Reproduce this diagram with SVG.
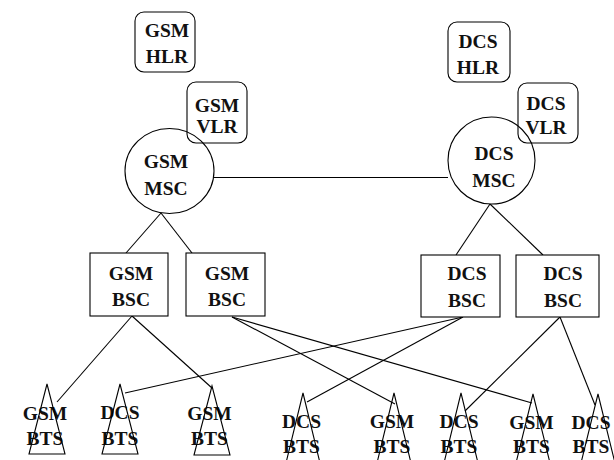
<svg xmlns="http://www.w3.org/2000/svg" width="614" height="460" viewBox="0 0 614 460">
<style>
.s{fill:none;stroke:#000;stroke-width:1.1}
.n{fill:#fff;stroke:#000;stroke-width:1.1}
.t{font-family:"Liberation Serif","Times New Roman",serif;font-weight:bold;font-size:19.5px;fill:#111;text-anchor:middle}
</style>
<rect width="614" height="460" fill="#fff"/>
<g id="connectors" class="s">
<line x1="214" y1="177.5" x2="448" y2="177.5"/>
<line x1="161" y1="213" x2="126" y2="253"/>
<line x1="161" y1="213" x2="192" y2="253"/>
<line x1="490" y1="204" x2="456" y2="255"/>
<line x1="490" y1="204" x2="543" y2="255"/>
<line x1="132" y1="316" x2="57" y2="402"/>
<line x1="132" y1="316" x2="212" y2="388"/>
<line x1="232" y1="317" x2="395" y2="404"/>
<line x1="232" y1="317" x2="532" y2="403"/>
<line x1="463" y1="317" x2="125" y2="393"/>
<line x1="463" y1="317" x2="307" y2="402"/>
<line x1="560" y1="317" x2="465" y2="411"/>
<line x1="560" y1="317" x2="595" y2="405"/>
</g>
<g id="gsm-hlr"><rect class="n" x="135" y="12" width="60" height="60" rx="9"/><text class="t" x="167" y="37">GSM</text><text class="t" x="167" y="63">HLR</text></g>
<g id="gsm-msc"><ellipse class="n" cx="169.5" cy="171" rx="44.5" ry="42.5"/><text class="t" x="166" y="168">GSM</text><text class="t" x="166" y="195">MSC</text></g>
<g id="gsm-vlr"><rect class="s" x="187" y="82" width="60" height="61" rx="9"/><text class="t" x="217" y="112">GSM</text><text class="t" x="217" y="133">VLR</text></g>
<g id="dcs-hlr"><rect class="n" x="448" y="22" width="62" height="60" rx="9"/><text class="t" x="478" y="48">DCS</text><text class="t" x="478" y="74">HLR</text></g>
<g id="dcs-msc"><circle class="n" cx="491.5" cy="160.5" r="43.5"/><text class="t" x="494" y="160">DCS</text><text class="t" x="494" y="187">MSC</text></g>
<g id="dcs-vlr"><rect class="s" x="518" y="83" width="60" height="60" rx="9"/><text class="t" x="546" y="110">DCS</text><text class="t" x="546" y="134">VLR</text></g>
<g id="gsm-bsc1"><rect class="n" x="90" y="253" width="78" height="63"/><text class="t" x="131" y="280">GSM</text><text class="t" x="131" y="306">BSC</text></g>
<g id="gsm-bsc2"><rect class="n" x="186" y="253" width="79" height="63"/><text class="t" x="227" y="280">GSM</text><text class="t" x="227" y="306">BSC</text></g>
<g id="dcs-bsc1"><rect class="n" x="421" y="255" width="79" height="62"/><text class="t" x="467" y="280">DCS</text><text class="t" x="467" y="307">BSC</text></g>
<g id="dcs-bsc2"><rect class="n" x="516" y="255" width="83" height="62"/><text class="t" x="563" y="280">DCS</text><text class="t" x="563" y="307">BSC</text></g>
<g id="bts1"><text class="t" x="45" y="420">GSM</text><text class="t" x="45" y="445">BTS</text><polygon class="s" points="47,384 29,454 65,454"/></g>
<g id="bts2"><text class="t" x="120" y="419">DCS</text><text class="t" x="120" y="445">BTS</text><polygon class="s" points="120,384 102,454 138,454"/></g>
<g id="bts3"><text class="t" x="209.5" y="420">GSM</text><text class="t" x="209.5" y="445">BTS</text><polygon class="s" points="212,386 194,455 230,455"/></g>
<g id="bts4"><text class="t" x="301.5" y="428">DCS</text><text class="t" x="301.5" y="453">BTS</text><polygon class="s" points="303,393 286,463 320,463"/></g>
<g id="bts5"><text class="t" x="392" y="428">GSM</text><text class="t" x="392" y="453">BTS</text><polygon class="s" points="394,393 377,463 411,463"/></g>
<g id="bts6"><text class="t" x="459" y="428">DCS</text><text class="t" x="459" y="453">BTS</text><polygon class="s" points="461,393 444,463 478,463"/></g>
<g id="bts7"><text class="t" x="531.5" y="429">GSM</text><text class="t" x="531.5" y="453">BTS</text><polygon class="s" points="533,394 516,463 550,463"/></g>
<g id="bts8"><text class="t" x="591" y="429">DCS</text><text class="t" x="591" y="453">BTS</text><polygon class="s" points="598,394 581,463 615,463"/></g>
</svg>
